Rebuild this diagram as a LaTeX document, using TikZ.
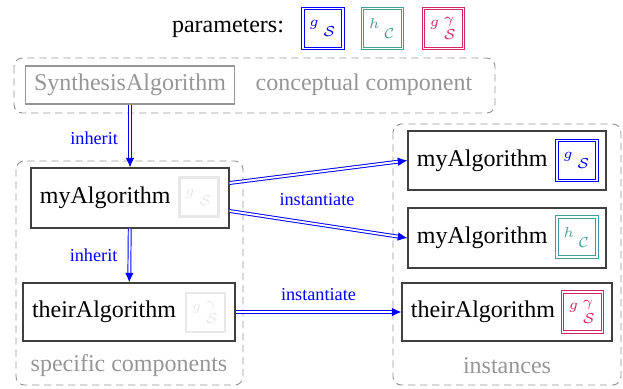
\documentclass[tikz,border=0pt]{standalone}
\usepackage{fontspec}
\setmainfont{Liberation Serif}
\usetikzlibrary{arrows.meta}
\definecolor{pteal}{RGB}{64,160,150}
\definecolor{pred}{RGB}{214,40,96}
\definecolor{dgray}{RGB}{150,150,150}
\definecolor{faint}{RGB}{232,232,232}
\def\u{0.4167pt}
\tikzset{
 group/.style={draw=dgray, dash pattern=on 3pt off 2pt, rounded corners=3.5pt, line width=0.4pt},
 algbox/.style={draw=black!75, line width=0.5pt, align=left, inner xsep=9*\u, inner ysep=0pt},
 parbox/.style={double, line width=0.35pt, double distance=0.6pt, minimum size=40*\u, inner sep=0pt, font=\footnotesize},
 fparbox/.style={draw=faint, line width=1pt, minimum size=39*\u, inner sep=0pt, font=\footnotesize, text=faint},
 conn/.style={draw=blue, double=white, line width=0.4pt, double distance=0.8pt, -{Latex[length=4pt,width=3.6pt]}},
 lbl/.style={text=blue, font=\fontsize{7.6}{9}\selectfont},
 grtext/.style={text=dgray}
}
\begin{document}
\begin{tikzpicture}[x=0.4167pt, y=-0.4167pt]
\useasboundingbox (0,0) rectangle (623,388);
% parameters
\node (params) at (228,28) {parameters:};
\node[parbox, draw=blue, text=blue] (pb) at (323,28.5) {${}^{g}\,{}_{\mathcal S}$};
\node[parbox, draw=pteal, text=pteal] (pt) at (382.5,28.5) {${}^{h}\,{}_{\mathcal C}$};
\node[parbox, draw=pred, text=pred] (pr) at (443.5,28.5) {${}^{g}\,{}^{\gamma}_{\mathcal S}$};
% groups
\draw[group] (14,58) rectangle (495,113);
\draw[group] (16,161) rectangle (243,385);
\draw[group] (393,124) rectangle (621,385);
% conceptual
\node[draw=dgray, line width=0.5pt, text=dgray, minimum width=209*\u, minimum height=38*\u, inner sep=0pt] (synth) at (130,85) {SynthesisAlgorithm};
\node[grtext] (concept) at (364,85) {conceptual component};
% specific
\node[algbox, text width=180*\u, minimum height=60*\u] (myL) at (130,198) {myAlgorithm};
\node[fparbox] (pL1) at (199,197) {${}^{g}\,{}_{\mathcal S}$};
\node[algbox, text width=194*\u, minimum height=58*\u] (theirL) at (129,312) {theirAlgorithm};
\node[fparbox] (pL2) at (205.5,312.5) {${}^{g}\,{}^{\gamma}_{\mathcal S}$};
\node[grtext] (specL) at (129,366) {specific components};
% instances
\node[algbox, text width=180*\u, minimum height=59*\u] (myR1) at (507,160.5) {myAlgorithm};
\node[parbox, draw=blue, text=blue] (pR1) at (577,160.5) {${}^{g}\,{}_{\mathcal S}$};
\node[algbox, text width=180*\u, minimum height=60*\u] (myR2) at (507,238) {myAlgorithm};
\node[parbox, draw=pteal, text=pteal] (pR2) at (577,237) {${}^{h}\,{}_{\mathcal C}$};
\node[algbox, text width=192*\u, minimum height=58*\u] (theirR) at (507,312) {theirAlgorithm};
\node[parbox, draw=pred, text=pred] (pR3) at (582.5,312) {${}^{g}\,{}^{\gamma}_{\mathcal S}$};
\node[grtext] (instL) at (507,366) {instances};
% connectors
\draw[conn] (synth) -- node[lbl, left=1.5pt, yshift=-1pt] (inh1) {inherit} (myL);
\draw[conn] (myL) -- node[lbl, left=1.5pt] (inh2) {inherit} (theirL);
\draw[conn] ([yshift=15*\u]myL.east) -- (myR1.west);
\draw[conn] ([yshift=-13*\u]myL.east) -- (myR2.west);
\node[lbl] (inst1) at (317,200) {instantiate};
\draw[conn] (theirL.east) -- node[lbl, above=1pt] (inst2) {instantiate} (theirR.west);
\end{tikzpicture}
\end{document}
